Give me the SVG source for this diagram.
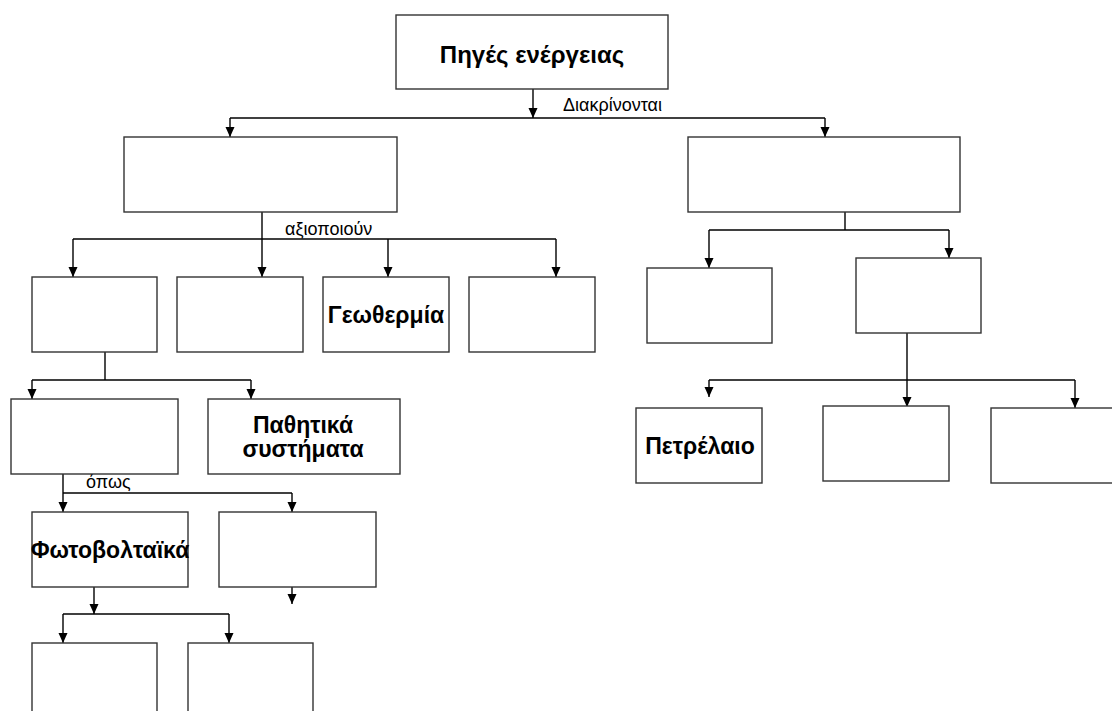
<svg xmlns="http://www.w3.org/2000/svg" width="1112" height="711" viewBox="0 0 1112 711">
<style>
.box{fill:#fff;stroke:#333;stroke-width:1.4}
.ln{fill:none;stroke:#000;stroke-width:1.4}
.arr{marker-end:url(#ah)}
.lbl{font-family:"Liberation Sans",Arial,sans-serif;font-weight:bold;font-size:23px;fill:#000;text-anchor:middle}
.el{font-family:"Liberation Sans",Arial,sans-serif;font-size:18px;fill:#000}
</style>
<defs>
<marker id="ah" markerUnits="userSpaceOnUse" markerWidth="10" markerHeight="10" viewBox="0 0 10 10" refX="10" refY="5" orient="auto">
<path d="M0,0.5 L10,5 L0,9.5 z" fill="#000"/>
</marker>
</defs>
<rect width="1112" height="711" fill="#fff"/>
<g id="connectors">
<path class="ln arr" d="M533,89 V118"/>
<path class="ln" d="M230,118 H825"/>
<path class="ln arr" d="M230,118 V137"/>
<path class="ln arr" d="M825,118 V137"/>
<path class="ln arr" d="M262,212 V277"/>
<path class="ln" d="M73,239 H556"/>
<path class="ln arr" d="M73,239 V277"/>
<path class="ln arr" d="M388,239 V277"/>
<path class="ln arr" d="M556,239 V277"/>
<path class="ln" d="M845,212 V230 M709,230 H949"/>
<path class="ln arr" d="M709,230 V268"/>
<path class="ln arr" d="M949,230 V258"/>
<path class="ln arr" d="M907,333 V407"/>
<path class="ln" d="M709,380 H1075"/>
<path class="ln arr" d="M709,380 V397"/>
<path class="ln arr" d="M1075,380 V408"/>
<path class="ln" d="M105,352 V380 M32,380 H251"/>
<path class="ln arr" d="M32,380 V399"/>
<path class="ln arr" d="M251,380 V399"/>
<path class="ln arr" d="M63,474 V512"/>
<path class="ln" d="M63,493 H292"/>
<path class="ln arr" d="M292,493 V512"/>
<path class="ln arr" d="M292,587 V604"/>
<path class="ln arr" d="M94,587 V614"/>
<path class="ln" d="M63,614 H229"/>
<path class="ln arr" d="M63,614 V643"/>
<path class="ln arr" d="M229,614 V643"/>
<text class="el" x="563" y="111">Διακρίνονται</text>
<text class="el" x="285" y="235">αξιοποιούν</text>
<text class="el" x="86" y="488">όπως</text>
</g>
<g id="n-pigi"><rect class="box" x="396" y="15" width="272" height="74"/><text class="lbl" x="532" y="63" style="font-size:24px">Πηγές ενέργειας</text></g>
<g id="n-ananeosimes"><rect class="box" x="124" y="137" width="273" height="75"/></g>
<g id="n-symvatikes"><rect class="box" x="688" y="137" width="272" height="75"/></g>
<g id="n-l1"><rect class="box" x="32" y="277" width="125" height="75"/></g>
<g id="n-l2"><rect class="box" x="177" y="277" width="126" height="75"/></g>
<g id="n-geo"><rect class="box" x="323" y="277" width="126" height="75"/><text class="lbl" x="386" y="323">Γεωθερμία</text></g>
<g id="n-l4"><rect class="box" x="469" y="277" width="126" height="75"/></g>
<g id="n-energ"><rect class="box" x="11" y="399" width="167" height="75"/></g>
<g id="n-pathitika"><rect class="box" x="208" y="399" width="192" height="75"/><text class="lbl" x="303" y="433">Παθητικά</text><text class="lbl" x="303" y="457">συστήματα</text></g>
<g id="n-foto"><rect class="box" x="32" y="512" width="156" height="75"/><text class="lbl" x="110" y="558">Φωτοβολταϊκά</text></g>
<g id="n-r2"><rect class="box" x="219" y="512" width="157" height="75"/></g>
<g id="n-f1"><rect class="box" x="32" y="643" width="125" height="80"/></g>
<g id="n-f2"><rect class="box" x="188" y="643" width="125" height="80"/></g>
<g id="n-s1"><rect class="box" x="647" y="268" width="125" height="75"/></g>
<g id="n-s2"><rect class="box" x="856" y="258" width="125" height="75"/></g>
<g id="n-petr"><rect class="box" x="636" y="408" width="126" height="75"/><text class="lbl" x="700" y="454">Πετρέλαιο</text></g>
<g id="n-s4"><rect class="box" x="823" y="406" width="126" height="75"/></g>
<g id="n-s5"><rect class="box" x="991" y="408" width="126" height="75"/></g>
</svg>
